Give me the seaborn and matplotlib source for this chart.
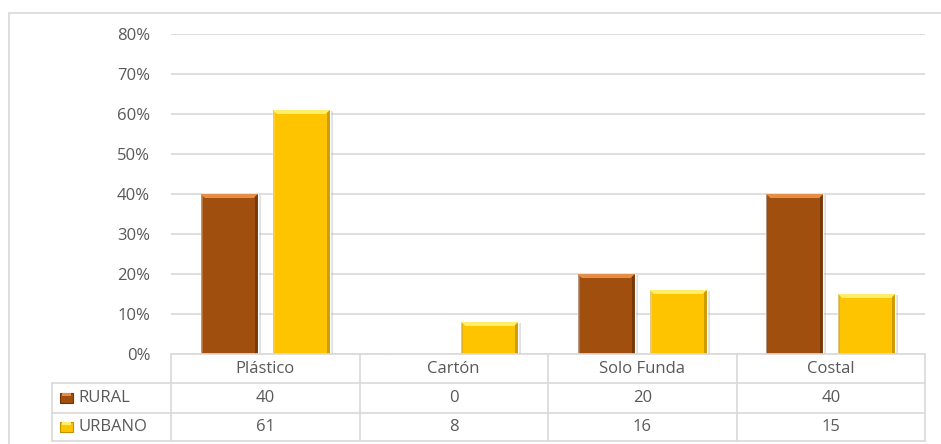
import numpy as np
import pandas as pd
import matplotlib
matplotlib.use("Agg")
import matplotlib.pyplot as plt
from matplotlib.patches import Rectangle, Polygon
from matplotlib.ticker import FuncFormatter
import seaborn as sns

# data (percent)
categories = ["Plástico", "Cartón", "Solo Funda", "Costal"]
groups = ["RURAL", "URBANO"]
rural = [40, 0, 20, 40]
urbano = [61, 8, 16, 15]
y_ticks = [0, 10, 20, 30, 40, 50, 60, 70, 80]

colors = {"RURAL": "#A04F0E", "URBANO": "#FFC400"}
light = {"RURAL": "#E58E45", "URBANO": "#FFEE6A"}
dark = {"RURAL": "#6E3307", "URBANO": "#C49200"}
TXT = "#595959"
GRID = "#D9D9D9"
FS = 12

W, H = 941, 444


def fx(px):
    return px / W


def fy(py):
    return 1 - py / H


sns.set_theme(style="white")
plt.rcParams['font.family'] = ['Open Sans', 'DejaVu Sans']

df = pd.DataFrame({
    "categoria": categories * 2,
    "grupo": ["RURAL"] * 4 + ["URBANO"] * 4,
    "valor": rural + urbano,
})

fig = plt.figure(figsize=(W / 100, H / 100), dpi=100)

# plot area
left, right, top, bottom = 171, 925, 34, 354
ax = fig.add_axes([fx(left), fy(bottom), fx(right - left), (bottom - top) / H])
sns.barplot(data=df, x="categoria", y="valor", hue="grupo", palette=colors,
            order=categories, hue_order=groups, width=0.764, gap=0.21,
            legend=False, saturation=1, ax=ax, zorder=3)

ax.set_ylim(0, 80)
ax.set_xlim(-0.5, len(categories) - 0.5)
ax.set_yticks(y_ticks)
ax.yaxis.set_major_formatter(FuncFormatter(lambda v, p: f"{int(v)}%"))
ax.tick_params(axis="y", length=0, pad=15, labelsize=FS, labelcolor=TXT)
ax.set_xticks([])
ax.set_xlabel("")
ax.set_ylabel("")
for s in ax.spines.values():
    s.set_visible(False)
ax.grid(axis="y", color=GRID, lw=1.2, zorder=0)

# bevel / shadow effect on bars
pxx = (len(categories)) / (right - left)
pxy = 80 / (bottom - top)
for bar, grp in zip(ax.patches, ["RURAL"] * 4 + ["URBANO"] * 4):
    x0, w, h = bar.get_x(), bar.get_width(), bar.get_height()
    if h <= 0:
        continue
    ax.add_patch(Rectangle((x0 + 3 * pxx, 0), w, h - 1 * pxy, color="#999999",
                           alpha=0.3, lw=0, zorder=2))
    ax.add_patch(Rectangle((x0 + w - 3 * pxx, 0), 3 * pxx, h, color=dark[grp],
                           alpha=0.8, lw=0, zorder=4))
    ax.add_patch(Rectangle((x0, 0), 1.5 * pxx, h, color=dark[grp], alpha=0.5,
                           lw=0, zorder=4))
    ax.add_patch(Polygon([(x0, h), (x0 + w, h), (x0 + w - 4 * pxx, h - 4 * pxy),
                          (x0 + 4 * pxx, h - 4 * pxy)], closed=True,
                         color=light[grp], lw=0, zorder=5))

# data table below the plot
tl, tt, tb = 52, 354, 441
tax = fig.add_axes([fx(tl), fy(tb), fx(right - tl), (tb - tt) / H])
tax.set_xlim(tl, right)
tax.set_ylim(tb, tt)
tax.axis("off")
rows_y = [354, 383, 413, 441]
col_x = [left + (right - left) * k / len(categories) for k in range(len(categories) + 1)]

tax.plot([left, right], [rows_y[0], rows_y[0]], color=GRID, lw=1.2, clip_on=False)
for yy in rows_y[1:]:
    tax.plot([tl, right], [yy, yy], color=GRID, lw=1.2, clip_on=False)
tax.plot([tl, tl], [rows_y[1], rows_y[3]], color=GRID, lw=1.2, clip_on=False)
for xx in col_x:
    tax.plot([xx, xx], [rows_y[0], rows_y[3]], color=GRID, lw=1.2, clip_on=False)

for i, cat in enumerate(categories):
    cx = (col_x[i] + col_x[i + 1]) / 2
    tax.text(cx, (rows_y[0] + rows_y[1]) / 2, cat, ha="center", va="center",
             fontsize=FS, color=TXT)
    tax.text(cx, (rows_y[1] + rows_y[2]) / 2, str(rural[i]), ha="center",
             va="center", fontsize=FS, color=TXT)
    tax.text(cx, (rows_y[2] + rows_y[3]) / 2, str(urbano[i]), ha="center",
             va="center", fontsize=FS, color=TXT)

for j, grp in enumerate(groups):
    cy = (rows_y[j + 1] + rows_y[j + 2]) / 2
    tax.add_patch(Rectangle((60, cy - 5), 13, 10, facecolor=colors[grp],
                            edgecolor=dark[grp], lw=0.8, clip_on=False))
    tax.add_patch(Rectangle((62, cy - 5), 9, 3, facecolor=light[grp], lw=0,
                            clip_on=False))
    tax.text(78, cy, grp, ha="left", va="center", fontsize=FS, color=TXT)

# outer chart border
fig.patches.append(Rectangle((fx(9), -0.1), 1.2, fy(13) + 0.1, transform=fig.transFigure,
                             facecolor="none", edgecolor=GRID, lw=1.2))

fig.savefig("out.png", dpi=100, facecolor="white")
